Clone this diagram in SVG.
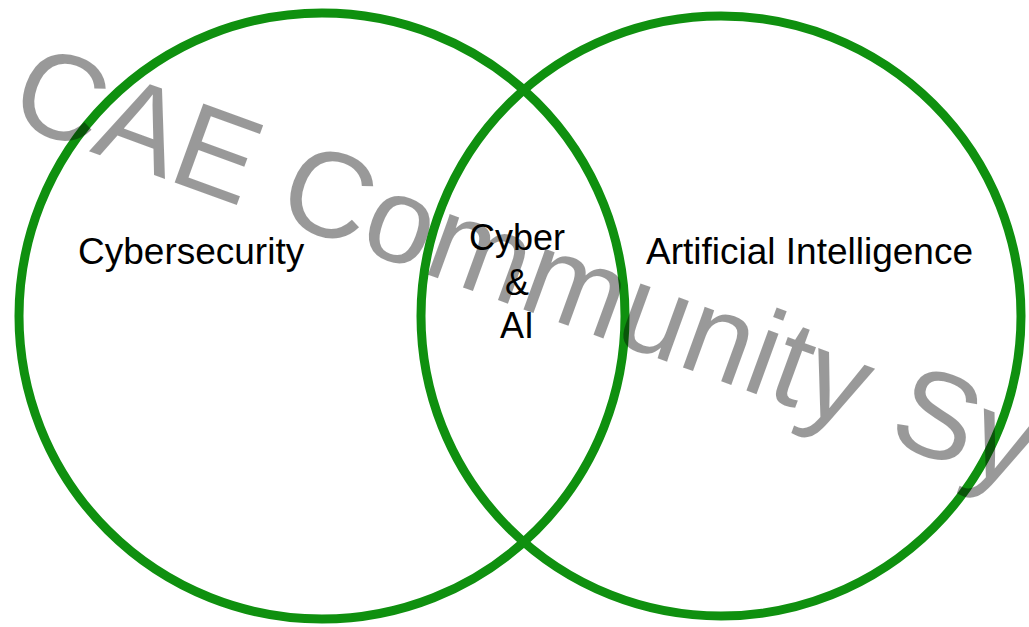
<svg xmlns="http://www.w3.org/2000/svg" width="1029" height="627" viewBox="0 0 1029 627">
  <style>
    .ring { fill: none; stroke: #0f900f; stroke-width: 9; }
    .label { font-family: "Liberation Sans", Arial, sans-serif; fill: #000; }
    .big { font-size: 37px; }
    .mid { font-size: 36px; text-anchor: middle; }
    .mark { font-family: "Liberation Sans", Arial, sans-serif; font-size: 122px; fill: #000; fill-opacity: 0.4; }
  </style>
  <rect width="1029" height="627" fill="#fff"/>

  <g id="cybersecurity">
    <circle class="ring" cx="322" cy="316" r="303"/>
    <text class="label big" x="78" y="264">Cybersecurity</text>
  </g>

  <g id="artificial-intelligence">
    <circle class="ring" cx="721" cy="316" r="300"/>
    <text class="label big" x="646" y="264">Artificial Intelligence</text>
  </g>

  <g id="cyber-and-ai">
    <text class="label mid" x="517" y="250">Cyber</text>
    <text class="label mid" x="517" y="295">&amp;</text>
    <text class="label mid" x="517" y="338">AI</text>
  </g>

  <g id="connectors"></g>

  <!-- watermark, runs off the right edge -->
  <text class="mark" x="6" y="121" transform="rotate(20 6 121)">CAE Community Sy</text>
</svg>
